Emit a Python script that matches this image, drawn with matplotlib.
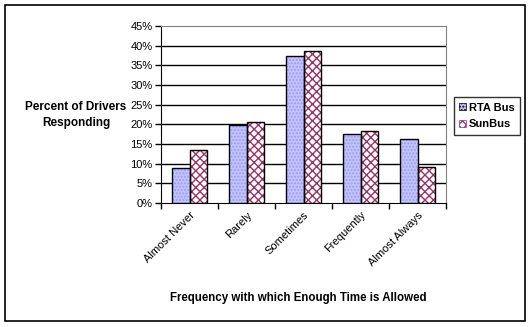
import matplotlib
matplotlib.use("Agg")
import matplotlib.pyplot as plt
import numpy as np
from matplotlib.patches import Rectangle, Patch

plt.rcParams['font.family'] = ['Liberation Sans', 'DejaVu Sans']

categories = ["Almost Never", "Rarely", "Sometimes", "Frequently", "Almost Always"]
rta_bus = [8.8, 19.8, 37.3, 17.5, 16.2]
sun_bus = [13.4, 20.5, 38.6, 18.2, 9.1]
series_names = ["RTA Bus", "SunBus"]
yticks = [0, 5, 10, 15, 20, 25, 30, 35, 40, 45]

W, H = 531, 327
fig = plt.figure(figsize=(W / 100, H / 100), dpi=100)
fig.patch.set_facecolor('white')

# outer frame
fig.add_artist(Rectangle((5 / W, 1 - 321 / H), 520 / W, 316 / H, transform=fig.transFigure,
                         fill=False, edgecolor='black', linewidth=1.2))

ax = fig.add_axes([161 / W, 1 - 203 / H, 285 / W, 177 / H])
x = np.arange(len(categories))
bw = 0.3

# RTA bus: light blue fine pattern
ax.bar(x - bw / 2, rta_bus, bw, color='#c4c4fb', edgecolor='#9999ff', hatch='.....', linewidth=0, zorder=3)
ax.bar(x - bw / 2, rta_bus, bw, fill=False, edgecolor='black', linewidth=1, zorder=4)
# SunBus: maroon zigzag pattern
ax.bar(x + bw / 2, sun_bus, bw, color='white', edgecolor='#993366', hatch='xxxx', linewidth=0, zorder=3)
ax.bar(x + bw / 2, sun_bus, bw, fill=False, edgecolor='black', linewidth=1, zorder=4)

ax.set_xlim(-0.5, len(categories) - 0.5)
ax.set_ylim(0, 45)
ax.set_yticks(yticks)
ax.set_yticklabels([f"{v}%" for v in yticks], fontsize=8)
for v in yticks[1:-1]:
    ax.axhline(v, color='black', linewidth=1, zorder=1)

ax.set_xticks(np.arange(len(categories) + 1) - 0.5, minor=False)
ax.set_xticklabels([])
ax.set_xticks(x, minor=True)
ax.set_xticklabels(categories, minor=True, rotation=45, ha='right', rotation_mode='anchor', fontsize=8)
ax.tick_params(axis='x', which='minor', length=0, pad=5)
ax.tick_params(axis='x', which='major', length=4, direction='out', width=1)
ax.tick_params(axis='y', length=4, direction='out', width=1, pad=2)

ax.spines['top'].set_color('#808080')
ax.spines['right'].set_color('#808080')
ax.spines['left'].set_color('black')
ax.spines['bottom'].set_color('black')

fig.text(76 / W, 1 - 115 / H, "Percent of Drivers\nResponding", ha='center', va='center',
         fontsize=8.5, fontweight='bold', linespacing=1.5)
fig.text(298 / W, 1 - 298 / H, "Frequency with which Enough Time is Allowed", ha='center', va='center',
         fontsize=8.3, fontweight='bold')

# legend
handles = [Patch(facecolor='#c4c4fb', edgecolor='black', hatch='.....', linewidth=0.5),
           Patch(facecolor='white', edgecolor='#993366', hatch='xxxx', linewidth=0.5)]
leg = fig.legend(handles, series_names, loc='center', bbox_to_anchor=(487 / W, 1 - 116 / H),
                 fontsize=8, frameon=True, fancybox=False, edgecolor='black', handlelength=0.6,
                 handleheight=0.6, handletextpad=0.3, borderpad=0.5, labelspacing=0.6)
leg.get_frame().set_linewidth(1)
for t in leg.get_texts():
    t.set_fontweight('bold')

fig.savefig("out.png", dpi=100)
